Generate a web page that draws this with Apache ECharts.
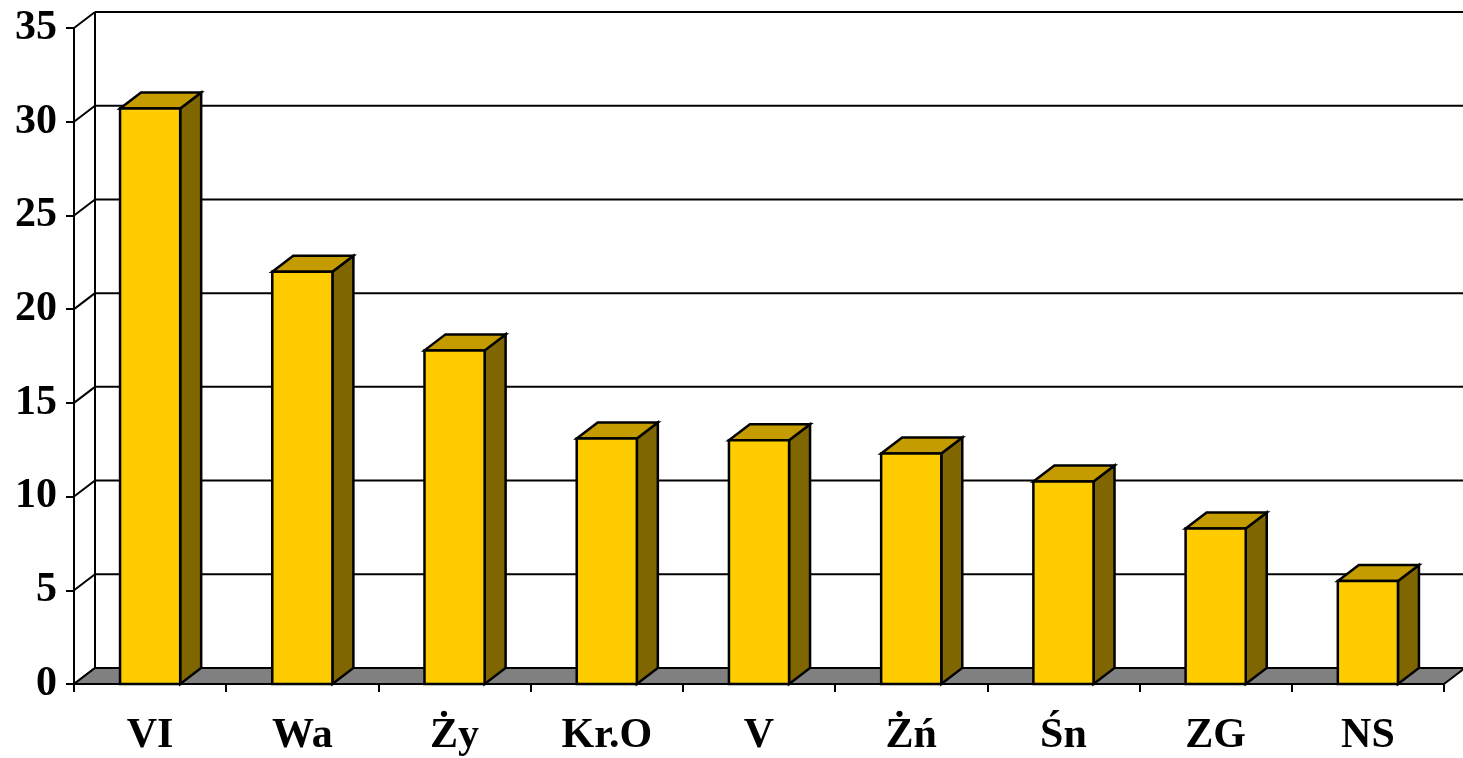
<!DOCTYPE html>
<html>
<head>
<meta charset="utf-8">
<script src="https://cdn.jsdelivr.net/npm/echarts@6/dist/echarts.min.js"></script>
<style>
html,body{margin:0;padding:0;background:#fff;}
#chart{width:1463px;height:758px;}
</style>
</head>
<body>
<div id="chart"></div>
<script>
const categories = ['VI', 'Wa', 'Ży', 'Kr.O', 'V', 'Żń', 'Śn', 'ZG', 'NS'];
const values = [30.7, 22.0, 17.8, 13.1, 13.0, 12.3, 10.8, 8.3, 5.5];
const yTicks = [0, 5, 10, 15, 20, 25, 30, 35];

const DX = 21, DY = -16;
const FRONT = '#FFCC00', TOP = '#C49C00', SIDE = '#7F6600', FLOOR = '#808080';
const LW = 2;
const BLW = 2.5;
const FONT = 'Liberation Serif';

const chart = echarts.init(document.getElementById('chart'));

function wallItem(params, api) {
  const cs = params.coordSys;
  const v = api.value(1);
  const y = api.coord([0, v])[1];
  const x0 = cs.x, x1 = cs.x + cs.width;
  const children = [];
  if (v > 0) {
    children.push({type: 'line', shape: {x1: x0 + DX, y1: y + DY, x2: x1 + DX, y2: y + DY},
      style: {stroke: '#000', lineWidth: LW}});
  }
  children.push({type: 'line', shape: {x1: x0, y1: y, x2: x0 + DX, y2: y + DY},
    style: {stroke: '#000', lineWidth: LW}});
  return {type: 'group', children: children};
}

function floorItem(params, api) {
  const cs = params.coordSys;
  const x0 = cs.x, x1 = cs.x + cs.width;
  const yb = cs.y + cs.height, yt = cs.y;
  return {type: 'group', children: [
    {type: 'line', shape: {x1: x0 + DX, y1: yt + DY, x2: x0 + DX, y2: yb + DY},
      style: {stroke: '#000', lineWidth: LW}},
    {type: 'polygon', shape: {points: [[x0, yb], [x1, yb], [x1 + DX, yb + DY], [x0 + DX, yb + DY]]},
      style: {fill: FLOOR, stroke: '#000', lineWidth: LW, lineJoin: 'miter'}}
  ]};
}

function barItem(params, api) {
  const idx = api.value(0);
  const c = api.coord([idx, api.value(1)]);
  const b = api.coord([idx, 0]);
  const bw = api.size([1, 0])[0] * 0.395;
  const xl = c[0] - bw / 2, xr = c[0] + bw / 2, yt = c[1], yb = b[1];
  const st = (f) => ({fill: f, stroke: '#000', lineWidth: BLW, lineJoin: 'miter'});
  return {type: 'group', children: [
    {type: 'polygon', shape: {points: [[xr, yb], [xr, yt], [xr + DX, yt + DY], [xr + DX, yb + DY]]}, style: st(SIDE)},
    {type: 'polygon', shape: {points: [[xl, yt], [xr, yt], [xr + DX, yt + DY], [xl + DX, yt + DY]]}, style: st(TOP)},
    {type: 'polygon', shape: {points: [[xl, yb], [xr, yb], [xr, yt], [xl, yt]]}, style: st(FRONT)}
  ]};
}

chart.setOption({
  animation: false,
  backgroundColor: '#ffffff',
  grid: {left: 74, right: 19, top: 28, bottom: 74},
  xAxis: {
    type: 'category',
    data: categories,
    boundaryGap: true,
    axisLine: {show: true, lineStyle: {color: '#000', width: LW}},
    axisTick: {show: true, length: 8, interval: 0, lineStyle: {color: '#000', width: LW}},
    axisLabel: {interval: 0, margin: 31, color: '#000', fontFamily: FONT, fontWeight: 'bold', fontSize: 42},
    z: 1
  },
  yAxis: {
    type: 'value',
    min: 0, max: 35, interval: 5,
    axisLine: {show: true, lineStyle: {color: '#000', width: LW}},
    axisTick: {show: true, length: 8, lineStyle: {color: '#000', width: LW}},
    axisLabel: {margin: 17, color: '#000', fontFamily: FONT, fontWeight: 'bold', fontSize: 42},
    splitLine: {show: false}
  },
  series: [
    {type: 'custom', renderItem: wallItem, data: yTicks.map(v => [0, v]), z: 1, silent: true, clip: false},
    {type: 'custom', renderItem: floorItem, data: [[0, 0]], z: 2, silent: true, clip: false},
    {type: 'custom', renderItem: barItem, data: values.map((v, i) => [i, v]), z: 3, clip: false}
  ]
});
</script>
</body>
</html>
